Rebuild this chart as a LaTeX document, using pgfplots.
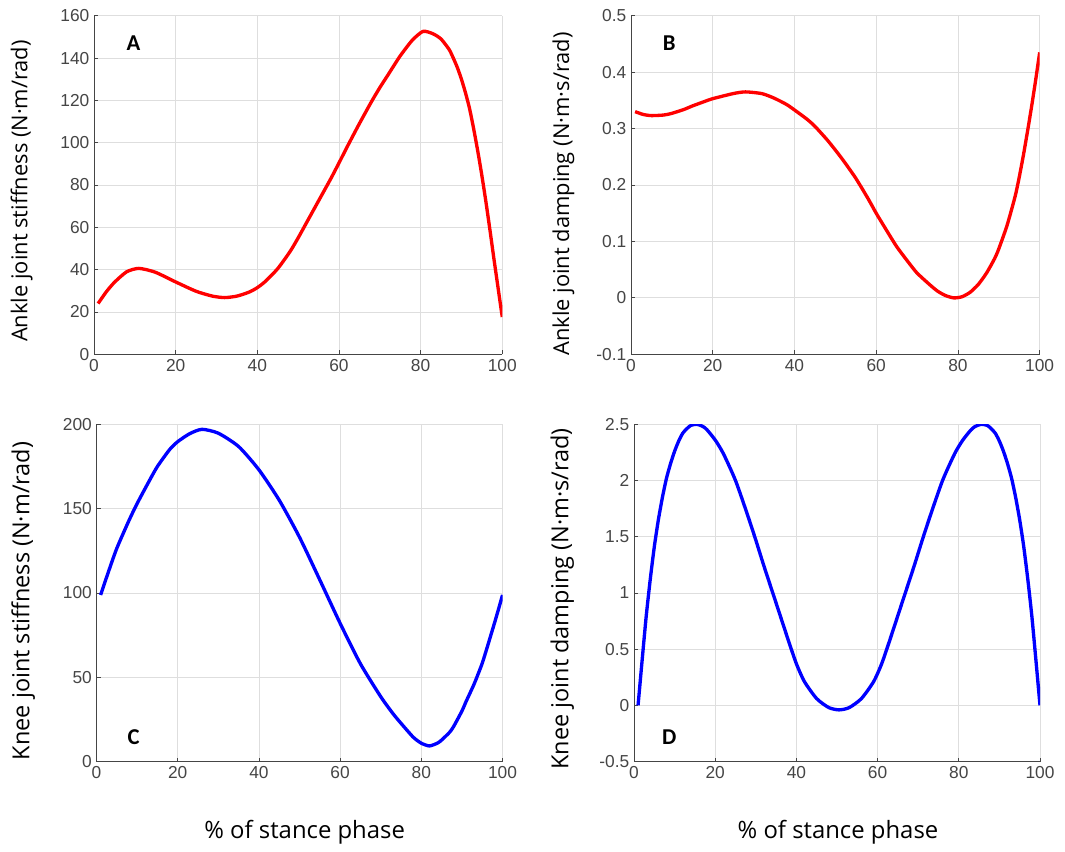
\documentclass[border=0pt]{standalone}
\usepackage{fontspec}
\usepackage{pgfplots}
\pgfplotsset{compat=1.18}
\setmainfont{Open Sans}
\newfontfamily\tickfont{Liberation Sans}
\newfontfamily\letterfont{Carlito}
\definecolor{axgray}{rgb}{0.27,0.27,0.27}
\definecolor{gridgray}{rgb}{0.87,0.87,0.87}
\pgfplotsset{
  panel/.style={
    scale only axis,
    anchor=north west,
    xmin=0, xmax=100,
    xtick={0,20,40,60,80,100},
    axis x line*=bottom, axis y line*=left,
    axis line style={axgray, line width=0.6pt, -},
    grid=major,
    major grid style={gridgray, line width=0.6pt},
    tick align=inside,
    major tick length=3pt,
    tick style={axgray, line width=0.6pt},
    tick label style={font=\tickfont\fontsize{13}{15}\selectfont, text=axgray},
    /pgf/number format/assume math mode=true,
    scaled ticks=false,
    yticklabel style={/pgf/number format/fixed},
  },
  curve/.style={line width=2.5pt, smooth, tension=0.4, line join=round},
}
\pgfplotstableread{
x y
1 24
3 29.5
5 34
8 39
11 40.6
15 38.8
20 34.2
25 29.8
29 27.5
32 26.8
35 27.5
38 29.4
40 31.5
42 34.5
45 40.5
48 48.5
50 55
52 62
55 72.5
58 83
60 90.4
62 98
65 109
68 119.5
70 126
72 132
75 141
78 148.5
80.6 152.6
83 151.5
85 149
87 144
88 140
89 135.5
90 130
91 123.5
92 116
93 106.5
94 96
95 84.5
96 72
97 58.5
98 44.5
99 31
100 17.6
}\ankleK
\pgfplotstableread{
x y
1 0.330
3 0.325
5 0.323
8 0.324
10 0.327
13 0.334
15 0.340
18 0.348
20 0.353
25 0.362
28 0.365
32 0.362
35 0.354
38 0.343
40 0.333
43 0.317
45 0.304
48 0.280
50 0.262
52 0.243
55 0.212
58 0.176
60 0.150
62 0.126
65 0.091
68 0.062
70 0.044
73 0.024
75 0.012
77 0.004
79 0.000
81 0.002
83 0.010
85 0.024
87 0.044
89 0.070
90 0.087
92 0.128
94 0.180
95 0.214
96 0.252
97 0.294
98 0.338
99 0.385
100 0.435
}\ankleB
\pgfplotstableread{
x y
1 98.8
3 113
5 126.5
8 143
10 153
13 166.5
15 175
18 185
20 189.7
23 194.5
26 197
30 194.7
35 186.8
40 173
45 155
50 133
55 107.7
60 82
65 58
70 38.5
73 28.5
75 22.7
78 14.5
80 10.9
82 9.3
84 11
85 12.8
87 17.5
88 21
90 30
91 35.5
92 40.7
93 46
94 52
95 58.3
96 66
97 74
98 82
99 90.3
100 98.8
}\kneeK
\pgfplotstableread{
x y
1 0.0
2 0.40
3 0.79
4 1.12
5 1.41
6 1.65
7 1.85
8 2.02
9 2.15
10 2.26
11 2.35
12 2.42
13 2.46
14 2.49
15.5 2.5
17 2.48
18 2.45
20 2.36
22 2.24
25 2.0
28 1.69
30 1.47
32 1.24
35 0.91
38 0.58
40 0.37
42 0.21
45 0.06
48 -0.02
50.5 -0.04
53 -0.02
56 0.06
59 0.21
61 0.37
63 0.58
66 0.91
69 1.24
71 1.47
73 1.69
76 2.0
79 2.24
81 2.36
83 2.45
84 2.48
85.5 2.5
87 2.49
88 2.46
89 2.42
90 2.35
91 2.26
92 2.15
93 2.02
94 1.85
95 1.65
96 1.41
97 1.12
98 0.79
99 0.40
100 0.0
}\kneeB
\begin{document}
\begin{tikzpicture}
\path[use as bounding box] (0pt,0pt) rectangle (798.75pt,-638.25pt);
% A
\begin{axis}[panel, at={(70.5pt,-11.78pt)}, width=306.2pt, height=253.95pt,
  ymin=0, ymax=160, ytick={0,20,40,60,80,100,120,140,160}]
\addplot[red, curve] table {\ankleK};
\end{axis}
% B
\begin{axis}[panel, at={(473.25pt,-11.78pt)}, width=306.5pt, height=253.95pt,
  ymin=-0.1, ymax=0.5, ytick={-0.1,0,0.1,0.2,0.3,0.4,0.5}]
\addplot[red, curve] table {\ankleB};
\end{axis}
% C
\begin{axis}[panel, at={(72.4pt,-318.2pt)}, width=304.5pt, height=253pt,
  ymin=0, ymax=200, ytick={0,50,100,150,200}]
\addplot[blue, curve] table {\kneeK};
\end{axis}
% D
\begin{axis}[panel, at={(475.5pt,-318.2pt)}, width=304.5pt, height=253pt,
  ymin=-0.5, ymax=2.5, ytick={-0.5,0,0.5,1,1.5,2,2.5}]
\addplot[blue, curve] table {\kneeB};
\end{axis}
% y labels
\node[rotate=90, font=\fontsize{16.4}{19}\selectfont] at (16.2pt,-143.25pt) {Ankle joint stiffness (N·m/rad)};
\node[rotate=90, font=\fontsize{16.4}{19}\selectfont] at (422.5pt,-145.5pt) {Ankle joint damping (N·m·s/rad)};
\node[rotate=90, font=\fontsize{17.6}{20}\selectfont] at (17.5pt,-450.75pt) {Knee joint stiffness (N·m/rad)};
\node[rotate=90, font=\fontsize{17.6}{20}\selectfont] at (421.7pt,-449.25pt) {Knee joint damping (N·m·s/rad)};
% x labels
\node[font=\fontsize{17.9}{21}\selectfont] at (228.5pt,-624pt) {\% of stance phase};
\node[font=\fontsize{17.9}{21}\selectfont] at (628.5pt,-624pt) {\% of stance phase};
% panel letters
\node[font=\letterfont\bfseries\fontsize{17}{20}\selectfont] at (100.2pt,-32.25pt) {A};
\node[font=\letterfont\bfseries\fontsize{17}{20}\selectfont] at (502pt,-32.25pt) {B};
\node[font=\letterfont\bfseries\fontsize{17}{20}\selectfont] at (100.2pt,-552.75pt) {C};
\node[font=\letterfont\bfseries\fontsize{17}{20}\selectfont] at (502pt,-552.75pt) {D};
\end{tikzpicture}
\end{document}
